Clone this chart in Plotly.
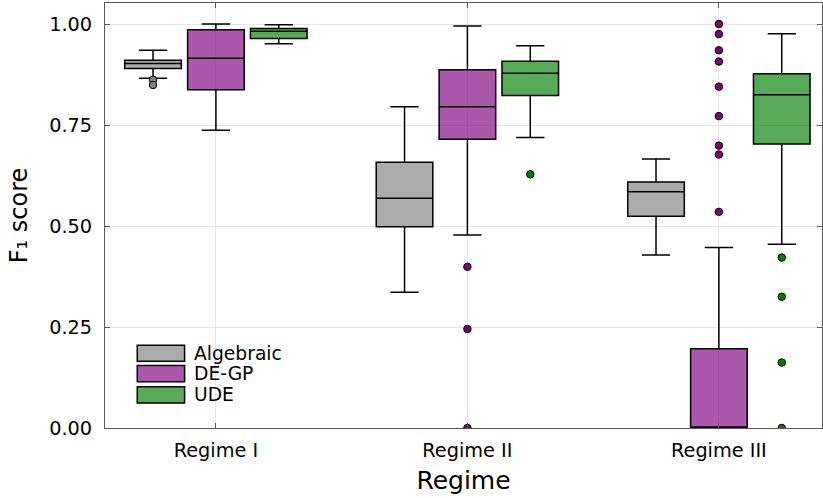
import plotly.graph_objects as go

# Categories and series
regimes = ["Regime I", "Regime II", "Regime III"]
methods = ["Algebraic", "DE-GP", "UDE"]

# Box statistics per method (one value per regime)
alg_low = [0.866, 0.336, 0.428]
alg_q1 = [0.890, 0.498, 0.524]
alg_med = [0.902, 0.569, 0.585]
alg_q3 = [0.910, 0.658, 0.609]
alg_high = [0.935, 0.795, 0.666]

degp_low = [0.737, 0.478, 0.0]
degp_q1 = [0.837, 0.715, 0.0]
degp_med = [0.915, 0.795, 0.0]
degp_q3 = [0.986, 0.887, 0.196]
degp_high = [1.000, 0.995, 0.447]

ude_low = [0.951, 0.719, 0.455]
ude_q1 = [0.964, 0.823, 0.703]
ude_med = [0.982, 0.878, 0.825]
ude_q3 = [0.989, 0.908, 0.877]
ude_high = [0.998, 0.946, 0.976]

# Outliers: regime index and value
alg_out_regime = [0, 0]
alg_out_value = [0.862, 0.849]
degp_out_regime = [1, 1, 1, 2, 2, 2, 2, 2, 2, 2, 2, 2]
degp_out_value = [0.399, 0.245, 0.0, 1.000, 0.975, 0.935, 0.907, 0.845,
                  0.772, 0.699, 0.677, 0.535]
ude_out_regime = [1, 2, 2, 2, 2]
ude_out_value = [0.628, 0.422, 0.325, 0.162, 0.0]

fills = ["rgba(128,128,128,0.66)", "rgba(128,0,128,0.66)", "rgba(0,128,0,0.66)"]
points = ["rgb(128,128,128)", "rgb(128,0,128)", "rgb(0,128,0)"]

stats = [
    (alg_low, alg_q1, alg_med, alg_q3, alg_high, alg_out_regime, alg_out_value),
    (degp_low, degp_q1, degp_med, degp_q3, degp_high, degp_out_regime, degp_out_value),
    (ude_low, ude_q1, ude_med, ude_q3, ude_high, ude_out_regime, ude_out_value),
]

slot = 0.25       # spacing between boxes inside a group
box_w = 0.225     # box width in axis units
pos = [i + 1 for i in range(len(regimes))]

fig = go.Figure()
for k, (lo, q1, med, q3, hi, oreg, oval) in enumerate(stats):
    off = (k - 1) * slot
    fig.add_trace(go.Box(
        x=[p + off for p in pos],
        lowerfence=lo, q1=q1, median=med, q3=q3, upperfence=hi,
        width=box_w, whiskerwidth=0.5,
        fillcolor=fills[k],
        line=dict(color="black", width=1.5),
        boxpoints=False, showlegend=False, name=methods[k],
        hoverinfo="skip",
    ))
    fig.add_trace(go.Scatter(
        x=[pos[r] + off for r in oreg], y=oval,
        mode="markers",
        marker=dict(size=7.5, color=points[k], line=dict(color="black", width=1)),
        showlegend=False, cliponaxis=True, hoverinfo="skip",
    ))

# Legend drawn as swatches with labels
leg_x0, leg_x1 = 0.045, 0.111
leg_rows = [0.176, 0.128, 0.078]
for k, name in enumerate(methods):
    yc = leg_rows[k]
    fig.add_shape(type="rect", xref="paper", yref="paper",
                  x0=leg_x0, x1=leg_x1, y0=yc - 0.019, y1=yc + 0.019,
                  fillcolor=fills[k], line=dict(color="black", width=1.5))
    fig.add_annotation(xref="paper", yref="paper", x=leg_x1 + 0.011, y=yc,
                       text=name, showarrow=False, xanchor="left", yanchor="middle",
                       font=dict(size=18.7, color="black"))

axis_common = dict(
    showline=True, linecolor="rgb(90,90,90)", linewidth=1, mirror="ticks",
    ticks="inside", ticklen=5, tickcolor="rgb(90,90,90)",
    showgrid=True, gridcolor="rgb(230,230,230)", gridwidth=1,
    zeroline=False, tickfont=dict(size=19.3, color="black"),
)

fig.update_layout(
    width=823, height=498,
    margin=dict(l=105, r=1, t=3, b=70),
    paper_bgcolor="white", plot_bgcolor="white",
    font=dict(family="DejaVu Sans", color="black"),
    boxmode="overlay",
    xaxis=dict(axis_common, range=[0.559, 3.41], tickvals=pos, ticktext=regimes,
               ticklabelstandoff=5,
               title=dict(text="Regime", font=dict(size=25), standoff=10)),
    yaxis=dict(axis_common, range=[0, 1.052], tickvals=[0, 0.25, 0.5, 0.75, 1.0],
               ticktext=["0.00", "0.25", "0.50", "0.75", "1.00"],
               ticklabelstandoff=8,
               title=dict(text="F₁ score", font=dict(size=24), standoff=14)),
)

fig.write_html("out.html")
